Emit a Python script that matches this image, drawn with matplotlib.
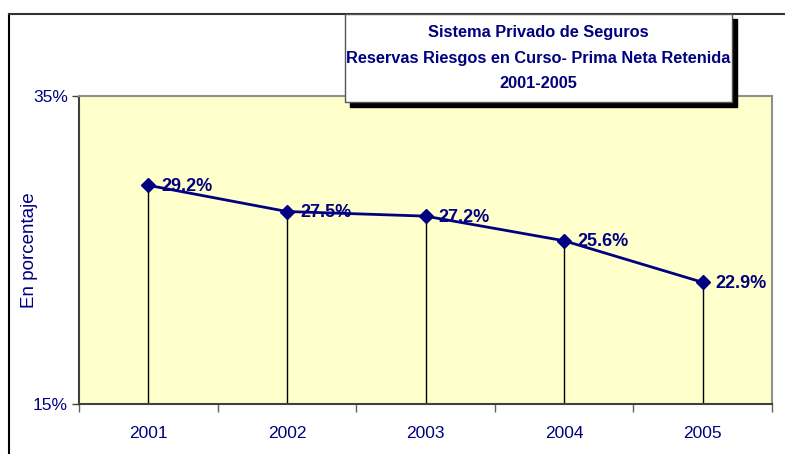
import matplotlib
matplotlib.use("Agg")
import matplotlib.pyplot as plt
from matplotlib.patches import Rectangle
from matplotlib.lines import Line2D

years = ["2001", "2002", "2003", "2004", "2005"]
values = [29.2, 27.5, 27.2, 25.6, 22.9]
labels = ["29.2%", "27.5%", "27.2%", "25.6%", "22.9%"]
yticks = [15, 35]
ytick_labels = ["15%", "35%"]
title_lines = ["Sistema Privado de Seguros",
               "Reservas Riesgos en Curso- Prima Neta Retenida",
               "2001-2005"]

NAVY = "#000080"
W, H = 785, 454
plt.rcParams['font.family'] = ['Liberation Sans', 'DejaVu Sans']

fig = plt.figure(figsize=(W / 100, H / 100), dpi=100)
fig.patch.set_facecolor("white")

def fx(px):
    return px / W

def fy(py):
    return 1 - py / H

ax = fig.add_axes([fx(79), fy(404), (772 - 79) / W, (404 - 96) / H])
ax.set_facecolor("#FFFFCC")

x = list(range(len(years)))
ax.vlines(x, 15, values, color="black", lw=1.0, zorder=2)
ax.plot(x, values, color=NAVY, lw=2, marker="D", markersize=7, zorder=3)
for xi, v, lab in zip(x, values, labels):
    ax.annotate(lab, (xi, v), xytext=(13, -1), textcoords="offset pixels",
                ha="left", va="center", fontsize=13, fontweight="bold",
                color=NAVY, zorder=4)

ax.set_xlim(-0.5, len(years) - 0.5)
ax.set_ylim(15, 35)
ax.set_yticks(yticks)
ax.set_yticklabels(ytick_labels, fontsize=12.5, color=NAVY)
ax.set_xticks(x)
ax.set_xticklabels(years, fontsize=12.5, color=NAVY)
ax.tick_params(axis="x", length=0, pad=16)
ax.set_xticks([i - 0.5 for i in range(len(years) + 1)], minor=True)
ax.tick_params(axis="x", which="minor", length=6, color="#606060", width=1)
ax.tick_params(axis="y", length=5, color="#404040", width=1, pad=3)
fig.text(fx(29), fy(250), "En porcentaje", rotation=90, ha="center", va="center",
         fontsize=13.5, color=NAVY)

for s in ["top", "right"]:
    ax.spines[s].set_color("#909090")
    ax.spines[s].set_linewidth(1.5)
for s in ["left", "bottom"]:
    ax.spines[s].set_color("#404040")
    ax.spines[s].set_linewidth(1.5)

# outer chart border
fig.add_artist(Line2D([fx(9), fx(9)], [fy(454), fy(14)], color="black", lw=1.5,
                      transform=fig.transFigure))
fig.add_artist(Line2D([fx(9), fx(785)], [fy(14), fy(14)], color="#333333", lw=1.5,
                      transform=fig.transFigure))

# title box with shadow
bx0, by0, bx1, by1 = 345, 14, 732, 102
fig.add_artist(Rectangle((fx(bx0 + 5), fy(by1 + 5)), (bx1 - bx0) / W, (by1 - by0) / H,
                         transform=fig.transFigure, facecolor="black",
                         edgecolor="black", zorder=5))
fig.add_artist(Rectangle((fx(bx0), fy(by1)), (bx1 - bx0) / W, (by1 - by0) / H,
                         transform=fig.transFigure, facecolor="white",
                         edgecolor="#555555", lw=1, zorder=6))
for i, line in enumerate(title_lines):
    fig.text(fx((bx0 + bx1) / 2), fy(33 + 25 * i), line, ha="center", va="center",
             fontsize=11.8, fontweight="bold", color=NAVY, zorder=7)

fig.savefig("out.png", dpi=100)
